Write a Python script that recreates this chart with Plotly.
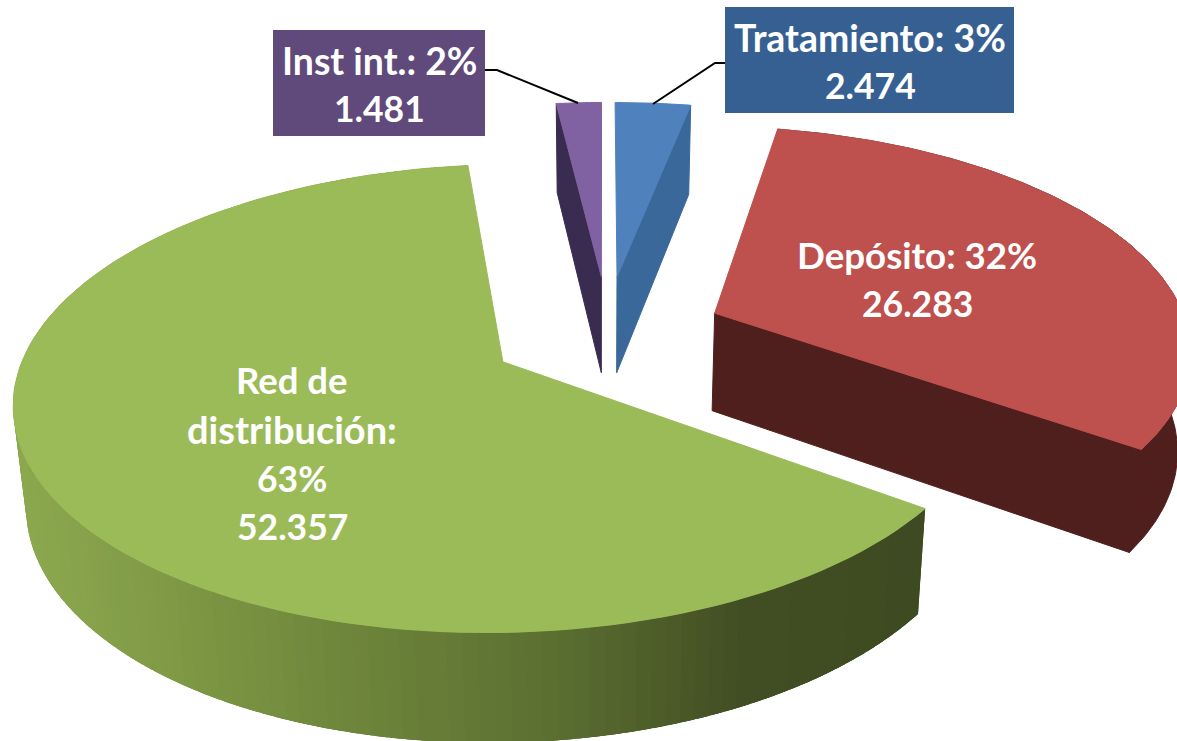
import numpy as np
import plotly.graph_objects as go

# ---- data ----
categories = ["Depósito", "Red de distribución", "Inst int.", "Tratamiento"]
values = [26283, 52357, 1481, 2474]
value_labels = ["26.283", "52.357", "1.481", "2.474"]

# ---- styles ----
top_colors = ["#BE504E", "#9BBB59", "#8062A2", "#4F81BD"]
side_colors = ["#4F1F1D", None, "#3A2C50", "#3A689A"]
box_colors = {"Inst int.": "#604A7B", "Tratamiento": "#376092"}
green_stops_x = [20, 300, 520, 720, 930]
green_stops_rgb = [(140, 168, 78), (112, 136, 60), (92, 112, 50), (66, 78, 35), (62, 74, 33)]

# ---- 3-D projection of the pie plane on to the page ----
OX, OY, SX, SY, PERSP = 607.44, 338.26, 474.25, 220.94, 0.1408
EXPLODE, FIRST_ANGLE = 0.2567, 10.55
rim_nudge = [(-3, -2), (3, -3), (2, 0), (0, 0)]
apex_nudge = [(-4, -4), (2, -6), (1, -7), (-1, -7)]
W, H = 1177, 741

total = sum(values)
spans = [v / total * 360 for v in values]
edges = [FIRST_ANGLE + sum(spans[:i]) for i in range(len(values) + 1)]
percents = [round(v / total * 100) for v in values]


def project(X, Y):
    w = 1 + PERSP * Y
    return OX + SX * X / w, OY - SY * Y / w


def centre(i):
    m = np.radians((edges[i] + edges[i + 1]) / 2)
    return EXPLODE * np.sin(m), EXPLODE * np.cos(m)


def rim(i, deg):
    t = np.radians(deg)
    cx, cy = centre(i)
    x, y = project(cx + np.sin(t), cy + np.cos(t))
    return x + rim_nudge[i][0], y + rim_nudge[i][1]


def apex(i):
    x, y = project(*centre(i))
    return x + apex_nudge[i][0], y + apex_nudge[i][1]


def lower(x, y):
    """Same outline seen at the bottom of the extruded pie."""
    return 600 + 0.978 * (np.asarray(x) - 600), 1.04 * np.asarray(y) + 85


fig = go.Figure()


def poly(xs, ys, color, width=1):
    fig.add_trace(go.Scatter(x=list(xs), y=list(ys), mode="lines", fill="toself", fillcolor=color,
                             line=dict(color=color, width=width), hoverinfo="skip"))


def radial_face(i, deg, color):
    ax, ay = apex(i)
    rx, ry = rim(i, deg)
    bax, bay = lower(ax, ay)
    brx, bry = lower(rx, ry)
    poly([ax, rx, brx, bax, ax], [ay, ry, bry, bay, ay], color)


def top_face(i):
    th = np.linspace(edges[i], edges[i + 1], 120)
    xs, ys = rim(i, th)
    ax, ay = apex(i)
    poly([ax, *xs, ax], [ay, *ys, ay], top_colors[i])


def wall(i, color):
    th = np.linspace(edges[i], edges[i + 1], 120)
    xs, ys = rim(i, th)
    bx, by = lower(xs, ys)
    poly([*xs, *bx[::-1], xs[0]], [*ys, *by[::-1], ys[0]], color)


# Tratamiento, Inst int.
radial_face(3, edges[4], side_colors[3])
top_face(3)
radial_face(2, edges[2], side_colors[2])
top_face(2)

# Depósito
wall(0, side_colors[0])
radial_face(0, edges[1], side_colors[0])
top_face(0)

# Red de distribución: shaded outer wall in overlapping vertical bands
band_edges = np.linspace(edges[1], edges[2], 141)
for a, b in zip(band_edges[:-1], band_edges[1:]):
    th = np.linspace(max(a - 3, edges[1]), b, 6)
    xs, ys = rim(1, th)
    bx, by = lower(xs, ys)
    mid = float(rim(1, (a + b) / 2)[0])
    rgb = [int(np.interp(mid, green_stops_x, [c[k] for c in green_stops_rgb])) for k in range(3)]
    poly([*xs, *bx[::-1], xs[0]], [*ys, *by[::-1], ys[0]], "rgb(%d,%d,%d)" % tuple(rgb), width=0)
top_face(1)

# ---- labels ----
FONT = "Lato"
NUM = 35.5
label_lines = [
    (["Depósito: %d%%" % percents[0], value_labels[0]], 917, [255, 303], [36.7, NUM]),
    (["Red de", "distribución:", "%d%%" % percents[1], value_labels[1]], 292, [380, 429, 478, 526],
     [36.5, 38, NUM, NUM]),
    (["Inst int.: %d%%" % percents[2], value_labels[2]], 379, [60, 108], [37.4, NUM]),
    (["Tratamiento: %d%%" % percents[3], value_labels[3]], 870, [37, 85], [37.4, NUM]),
]

shapes = [
    dict(type="rect", x0=273, x1=485, y0=30, y1=136, fillcolor=box_colors["Inst int."], line_width=0),
    dict(type="rect", x0=725, x1=1014, y0=7, y1=113, fillcolor=box_colors["Tratamiento"], line_width=0),
    dict(type="path", path="M485,70 L497,70 L578,103", line=dict(color="black", width=2)),
    dict(type="path", path="M725,63 L715,63 L653,104", line=dict(color="black", width=2)),
]
annotations = []
for lines, x, ys, sizes in label_lines:
    for text, y, size in zip(lines, ys, sizes):
        annotations.append(dict(x=x, y=y, text="<b>%s</b>" % text, showarrow=False, xanchor="center",
                                yanchor="middle", font=dict(family=FONT, size=size, color="white")))

fig.update_layout(width=W, height=H, margin=dict(l=0, r=0, t=0, b=0), showlegend=False,
                  paper_bgcolor="white", plot_bgcolor="white",
                  xaxis=dict(range=[0, W], visible=False, fixedrange=True),
                  yaxis=dict(range=[H, 0], visible=False, fixedrange=True),
                  shapes=shapes, annotations=annotations)
fig.write_html("out.html", config=dict(displayModeBar=False),
               post_script="document.body.style.margin='0';document.body.style.overflow='hidden'")
